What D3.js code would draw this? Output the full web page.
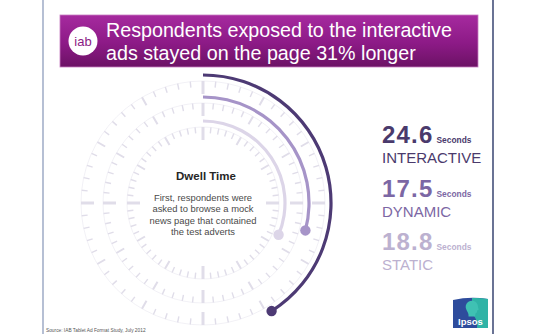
<!DOCTYPE html>
<html>
<head>
<meta charset="utf-8">
<script src="https://cdn.jsdelivr.net/npm/d3@7/dist/d3.min.js"></script>
<style>
  html, body { margin: 0; padding: 0; background: #ffffff; }
  svg { display: block; }
</style>
</head>
<body>
<svg id="chart" width="540" height="334"></svg>
<script>
// Dwell time per ad format, in seconds
const formats = ["INTERACTIVE", "DYNAMIC", "STATIC"];
const dwellSeconds = [24.6, 17.5, 18.8];
const unitLabel = "Seconds";

// Clock-face ticks: one per second, a longer one every five seconds
const tickSeconds = d3.range(0, 60);
const majorEvery = 5;

const titleLines = [
  "Respondents exposed to the interactive",
  "ads stayed on the page 31% longer"
];
const centerTitle = "Dwell Time";
const centerLines = [
  "First, respondents were",
  "asked to browse a mock",
  "news page that contained",
  "the test adverts"
];
const sourceNote = "Source: IAB Tablet Ad Format Study, July 2012";

// ---- styling ----
const FONT = "'Liberation Sans', Arial, sans-serif";
const colour = d3.scaleOrdinal()
  .domain(formats)
  .range(["#4d3a74", "#a694c8", "#dcd5e8"]);
const textColour = d3.scaleOrdinal()
  .domain(formats)
  .range(["#4a3a6c", "#7c67a4", "#bcb1d0"]);
const tickColour = "#e0dde9";

const svg = d3.select("#chart");

// page frame lines
svg.append("line").attr("x1", 43).attr("x2", 43).attr("y1", 0).attr("y2", 334)
  .attr("stroke", "#8595b8").attr("stroke-width", 1.2);
svg.append("line").attr("x1", 493).attr("x2", 493).attr("y1", 0).attr("y2", 334)
  .attr("stroke", "#44507a").attr("stroke-width", 1.6);

// ---- title banner ----
const defs = svg.append("defs");
const grad = defs.append("linearGradient").attr("id", "banner")
  .attr("x1", 0).attr("y1", 0).attr("x2", 0).attr("y2", 1);
grad.append("stop").attr("offset", "0%").attr("stop-color", "#a62a9f");
grad.append("stop").attr("offset", "55%").attr("stop-color", "#8c1a86");
grad.append("stop").attr("offset", "100%").attr("stop-color", "#6c1265");

svg.append("rect")
  .attr("x", 60).attr("y", 15).attr("width", 418).attr("height", 52)
  .attr("fill", "url(#banner)")
  .attr("stroke", "#c77cc0").attr("stroke-width", 0.8);

svg.append("circle").attr("cx", 83).attr("cy", 41).attr("r", 14.5).attr("fill", "#ffffff");
svg.append("text").attr("x", 83).attr("y", 45.5)
  .attr("text-anchor", "middle")
  .attr("font-family", FONT).attr("font-size", 13).attr("fill", "#8a1b84")
  .text("iab");

svg.append("g").selectAll("text").data(titleLines).join("text")
  .attr("x", 106).attr("y", (d, i) => 37 + i * 22.5)
  .attr("font-family", FONT).attr("font-size", 19.7).attr("fill", "#ffffff")
  .text(d => d);

// ---- clock rings ----
const cx = 203, cy = 203;
const angle = d3.scaleLinear().domain([0, 60]).range([0, 2 * Math.PI]);
// arc radius for each format, outermost first
const arcRadius = d3.scaleOrdinal().domain(formats).range([128, 106, 82]);
const ringGap = 6;

const dial = svg.append("g").attr("transform", `translate(${cx},${cy})`);

function tickLen(s) {
  return s % 15 === 0 ? 13 : (s % majorEvery === 0 ? 9 : 6);
}

formats.forEach(f => {
  const rOut = arcRadius(f) - ringGap;
  dial.append("circle").attr("r", rOut).attr("fill", "none")
    .attr("stroke", tickColour).attr("stroke-width", 0.7).attr("opacity", 0.6);
  dial.append("g").selectAll("line").data(tickSeconds).join("line")
    .attr("x1", s => Math.sin(angle(s)) * rOut)
    .attr("y1", s => -Math.cos(angle(s)) * rOut)
    .attr("x2", s => Math.sin(angle(s)) * (rOut - tickLen(s)))
    .attr("y2", s => -Math.cos(angle(s)) * (rOut - tickLen(s)))
    .attr("stroke", tickColour)
    .attr("stroke-width", s => s % 15 === 0 ? 3 : (s % majorEvery === 0 ? 2 : 1.4));
});

// value arcs, drawn innermost first so the darker ones stay on top
const arcGen = d3.arc();
[2, 1, 0].forEach(i => {
  const f = formats[i];
  const r = arcRadius(f);
  const end = angle(dwellSeconds[i]);
  dial.append("path")
    .attr("d", arcGen({ innerRadius: r - 1.6, outerRadius: r + 1.6, startAngle: 0, endAngle: end }))
    .attr("fill", colour(f));
  dial.append("circle")
    .attr("cx", Math.sin(end) * r)
    .attr("cy", -Math.cos(end) * r)
    .attr("r", 5.2)
    .attr("fill", colour(f));
});

// centre caption
svg.append("text").attr("x", cx + 3).attr("y", 180)
  .attr("text-anchor", "middle")
  .attr("font-family", FONT).attr("font-weight", "bold").attr("font-size", 11.5)
  .attr("fill", "#262626").text(centerTitle);
svg.append("g").selectAll("text").data(centerLines).join("text")
  .attr("x", cx).attr("y", (d, i) => 200.5 + i * 11.5)
  .attr("text-anchor", "middle")
  .attr("font-family", FONT).attr("font-size", 9.4).attr("fill", "#4a4a4a")
  .text(d => d);

// ---- value legend on the right ----
const legend = svg.append("g");
formats.forEach((f, i) => {
  const base = 143 + i * 53.5;
  const num = legend.append("text").attr("x", 382).attr("y", base)
    .attr("font-family", FONT).attr("font-weight", "bold").attr("font-size", 24)
    .attr("letter-spacing", 1.2)
    .attr("fill", textColour(f)).text(d3.format(".1f")(dwellSeconds[i]));
  const w = num.node().getComputedTextLength();
  legend.append("text").attr("x", 382 + w + 3).attr("y", base)
    .attr("font-family", FONT).attr("font-weight", "bold").attr("font-size", 8.4)
    .attr("fill", textColour(f)).text(unitLabel);
  legend.append("text").attr("x", 382).attr("y", base + 20)
    .attr("font-family", FONT).attr("font-size", 15)
    .attr("fill", textColour(f)).text(f);
});

// ---- Ipsos mark ----
const logo = svg.append("g").attr("transform", "translate(453,297)");
logo.append("path")
  .attr("d", "M0,3 Q17,-1 35,2 V31 H0 Z").attr("fill", "#2e4c9c");
logo.append("path")
  .attr("d", "M19,1 Q27,0.5 35,2 V31 H24 C25,24 22,20 19,16 Z").attr("fill", "#2fb3a6");
// profile head
logo.append("path")
  .attr("d", "M15,5 C20,2 25,5 25,10 C25,11 26,12 25.5,13 L24,13.5 C24.5,15 23.5,16 22.5,16.5 L22,19.5 L15.5,19.5 C16,17 14.5,15 13.5,13 C12,10 12.5,7 15,5 Z")
  .attr("fill", "#3fc1b3");
logo.append("text").attr("x", 17.5).attr("y", 28)
  .attr("text-anchor", "middle")
  .attr("font-family", FONT).attr("font-weight", "bold").attr("font-size", 9.5)
  .attr("fill", "#ffffff").text("Ipsos");

// source footnote
svg.append("text").attr("x", 46).attr("y", 332)
  .attr("font-family", FONT).attr("font-size", 4.8).attr("fill", "#555555")
  .text(sourceNote);
</script>
</body>
</html>
